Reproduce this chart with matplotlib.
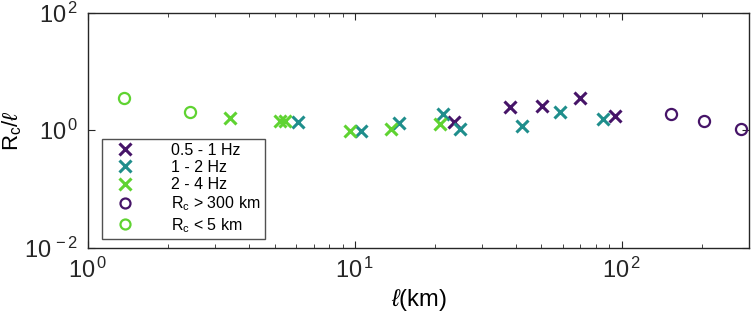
import matplotlib
matplotlib.use("Agg")
import matplotlib.pyplot as plt
from matplotlib.ticker import LogLocator, NullLocator, FixedLocator

plt.rcParams['font.family'] = ['Liberation Sans', 'DejaVu Sans']
plt.rcParams['mathtext.fontset'] = 'custom'
plt.rcParams['mathtext.rm'] = 'Liberation Sans'
plt.rcParams['mathtext.it'] = 'Liberation Sans:italic'

# Data
f05_x = [23.6, 38.1, 50.4, 69.8, 94.4]
f05_y = [1.38, 2.49, 2.56, 3.60, 1.75]
f12_x = [6.12, 10.5, 14.6, 21.4, 24.7, 42.2, 58.5, 85.1]
f12_y = [1.37, 0.96, 1.33, 1.92, 1.04, 1.17, 2.05, 1.58]
f24_x = [3.41, 5.22, 5.45, 9.56, 13.7, 20.9]
f24_y = [1.60, 1.42, 1.42, 0.97, 1.03, 1.30]
big_x = [153, 203, 280]
big_y = [1.92, 1.44, 1.07]
small_x = [1.365, 2.41]
small_y = [3.60, 2.05]

c_purple = '#461468'
c_teal = '#1f8e8c'
c_green = '#5fd331'

fig = plt.figure(figsize=(7.54, 3.13), dpi=100)
ax = fig.add_axes([0.1167, 0.2077, 0.8767, 0.7523])

ms = 9
ax.plot(f05_x, f05_y, 'x', color=c_purple, ms=ms, mew=2.2, label='0.5 - 1 Hz')
ax.plot(f12_x, f12_y, 'x', color=c_teal, ms=ms, mew=2.2, label='1 - 2 Hz')
ax.plot(f24_x, f24_y, 'x', color=c_green, ms=ms, mew=2.2, label='2 - 4 Hz')
ax.plot(big_x, big_y, 'o', mfc='none', mec=c_purple, ms=8, mew=1.6, label=r'R$_{\rm c}$ > 300 km')
ax.plot(small_x, small_y, 'o', mfc='none', mec=c_green, ms=8, mew=1.6, label=r'R$_{\rm c}$ < 5 km')

ax.set_xscale('log')
ax.set_yscale('log')
ax.set_xlim(1, 300)
ax.set_ylim(1e-2, 1e2)

ax.xaxis.set_major_locator(FixedLocator([1, 10, 100]))
ax.xaxis.set_minor_locator(LogLocator(base=10, subs=range(2, 10)))
ax.yaxis.set_major_locator(FixedLocator([1e-2, 1, 1e2]))
ax.yaxis.set_minor_locator(NullLocator())
ax.set_xticklabels([r'10$^{\,0}$', r'10$^{\,1}$', r'10$^{\,2}$'])
ax.set_yticklabels([r'10$^{\,-2}$', r'10$^{\,0}$', r'10$^{\,2}$'])

ax.tick_params(which='both', direction='in', top=True, right=True, colors='#262626', labelcolor='#262626')
ax.tick_params(which='major', length=5, labelsize=17, pad=7)
ax.tick_params(which='minor', length=3)
for s in ax.spines.values():
    s.set_color('#262626')
    s.set_linewidth(1.0)

ax.set_xlabel(r'$\ell$(km)', fontsize=17, labelpad=3)
ax.set_ylabel(r'R$_{\rm c}$/$\ell$', fontsize=16)
ax.yaxis.set_label_coords(-0.097, 0.5)

leg = ax.legend(loc='lower left', bbox_to_anchor=(0.021, 0.04), fontsize=11.5,
                frameon=True, fancybox=False, edgecolor='#262626',
                handlelength=2.4, handletextpad=1.7, borderpad=0.25,
                labelspacing=0.15, borderaxespad=0, markerscale=0.9)
leg.get_frame().set_linewidth(1.0)

fig.savefig('out.png', dpi=100)
